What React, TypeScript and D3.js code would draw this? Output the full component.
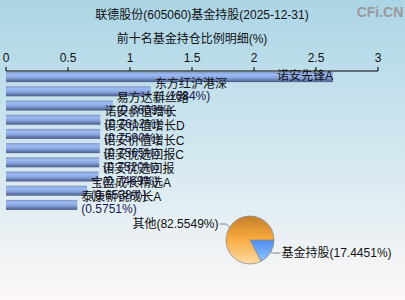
import React from "react";
import * as d3 from "d3";

const fundNames = ["诺安先锋A", "东方红沪港深", "易方达新丝路", "诺安价值增长", "诺安价值增长D", "诺安价值增长C", "诺安优选回报C", "诺安优选回报", "宝盈成长精选A", "泰康新锐成长A"];
const fundValues = [2.6372, 1.1684, 0.8609, 0.7612, 0.759, 0.7565, 0.752, 0.7469, 0.6538, 0.5751];
const tickValues = [0, 0.5, 1, 1.5, 2, 2.5, 3];
const pieLabels = ["基金持股", "其他"];
const pieValues = [17.4451, 82.5549];

const W = 405;
const H = 300;
const FONT = "'Liberation Sans', 'Noto Sans CJK SC', sans-serif";

export default function App() {
  const x = d3.scaleLinear().domain([0, 3]).range([6, 378]);
  const y = d3.scaleBand<number>().domain(d3.range(fundNames.length)).range([70, 212]).paddingInner(0.296).paddingOuter(0.148);
  const bw = y.bandwidth();

  const cx = 250, cy = 240, r = 24;
  const pie = d3.pie<number>().sort(null).startAngle(Math.PI / 2).endAngle(Math.PI / 2 + 2 * Math.PI);
  const arcs = pie(pieValues);
  const arc = d3.arc<d3.PieArcDatum<number>>().innerRadius(0).outerRadius(r);

  const edge = (a: number, rr: number) => [cx + rr * Math.sin(a), cy - rr * Math.cos(a)];

  return (
    <div style={{ position: "fixed", left: 0, top: 0 }}>
      <svg width={W} height={H} style={{ display: "block" }} fontFamily={FONT}>
        <defs>
          <linearGradient id="bg" x1="0" y1="0" x2="0" y2="1">
            <stop offset="0" stopColor="#abd5e6" />
            <stop offset="0.55" stopColor="#d6e9f0" />
            <stop offset="1" stopColor="#fdf8f8" />
          </linearGradient>
          <linearGradient id="bar" x1="0" y1="0" x2="0" y2="1">
            <stop offset="0" stopColor="#8294c0" />
            <stop offset="0.25" stopColor="#9dbcf6" />
            <stop offset="0.55" stopColor="#8aa6e0" />
            <stop offset="1" stopColor="#4a5a88" />
          </linearGradient>
          <linearGradient id="orange" x1="0" y1="0" x2="0" y2="1">
            <stop offset="0" stopColor="#c47f2c" />
            <stop offset="0.45" stopColor="#f7a83c" />
            <stop offset="1" stopColor="#fddca6" />
          </linearGradient>
          <linearGradient id="blue" x1="0" y1="0" x2="0" y2="1">
            <stop offset="0" stopColor="#4d8ef0" />
            <stop offset="1" stopColor="#8fc2ff" />
          </linearGradient>
        </defs>
        <rect x={0} y={0} width={W} height={H} fill="url(#bg)" />

        <text x={202} y={15} textAnchor="middle" dominantBaseline="central" fontSize={12} fill="#111">
          联德股份(605060)基金持股(2025-12-31)
        </text>
        <text x={192} y={39} textAnchor="middle" dominantBaseline="central" fontSize={12} fill="#111">
          前十名基金持仓比例明细(%)
        </text>
        <text x={380} y={12} textAnchor="middle" dominantBaseline="central" fontSize={14} fontWeight="bold" fill="#9a9a9a">
          CFi.CN
        </text>

        {/* axis */}
        <line x1={x(0)} x2={x(3)} y1={71} y2={71} stroke="#000" strokeWidth={1} />
        {tickValues.map((t) => (
          <g key={t}>
            <line x1={x(t)} x2={x(t)} y1={67} y2={71} stroke="#000" />
            <text x={x(t)} y={58} textAnchor="middle" dominantBaseline="central" fontSize={12} fill="#111">
              {String(t)}
            </text>
          </g>
        ))}

        {/* bars */}
        {fundValues.map((v, i) => (
          <rect key={"b" + i} x={x(0)} y={y(i)} width={x(v) - x(0)} height={bw} fill="url(#bar)" />
        ))}
        {fundValues.map((v, i) => {
          const yc = (y(i) as number) + bw / 2;
          if (i === 0) {
            return (
              <text key={"l" + i} x={x(v)} y={yc - 1} textAnchor="end" dominantBaseline="central" fontSize={12} fill="#111">
                {fundNames[i]}
              </text>
            );
          }
          return (
            <g key={"l" + i}>
              <text x={x(v) + 4} y={yc - 7.5} dominantBaseline="central" fontSize={12} fill="#111">
                {fundNames[i]}
              </text>
              <text x={x(v) + 4} y={yc + 4.5} dominantBaseline="central" fontSize={12} fill="#1a1a50">
                ({v.toFixed(4)}%)
              </text>
            </g>
          );
        })}

        {/* pie */}
        {arcs.map((a, i) => (
          <path key={"p" + i} d={arc(a) as string} transform={`translate(${cx},${cy})`} fill={i === 0 ? "url(#blue)" : "url(#orange)"} stroke="#8a8a8a" strokeWidth={0.8} />
        ))}
        {arcs.map((a, i) => {
          const mid = (a.startAngle + a.endAngle) / 2;
          const [ex, ey] = edge(mid, r);
          const right = Math.sin(mid) > 0;
          const lx = right ? ex + 10 : ex - 10;
          const ly = ey + (right ? 0.5 : -3.5);
          return (
            <g key={"pl" + i}>
              <polyline points={`${ex},${ey} ${right ? ex + 3 : ex - 3},${ly} ${lx},${ly}`} fill="none" stroke="#888" strokeWidth={1} />
              <text x={right ? lx + 1 : lx - 1} y={ly} textAnchor={right ? "start" : "end"} dominantBaseline="central" fontSize={12} fill="#111">
                {pieLabels[i]}({pieValues[i].toFixed(4)}%)
              </text>
            </g>
          );
        })}
      </svg>
    </div>
  );
}
